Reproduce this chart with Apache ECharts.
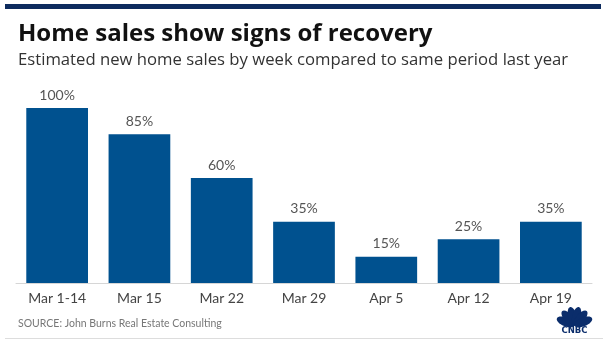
<!DOCTYPE html>
<html><head><meta charset="utf-8">
<script src="https://cdn.jsdelivr.net/npm/echarts@6/dist/echarts.min.js"></script>
<style>html,body{margin:0;padding:0;background:#fff}#c{width:608px;height:343px}</style>
</head><body><div id="c"></div>
<script>
const categories = ['Mar 1-14','Mar 15','Mar 22','Mar 29','Apr 5','Apr 12','Apr 19'];
const values = [100, 85, 60, 35, 15, 25, 35];
const titleText = 'Home sales show signs of recovery';
const subtitleText = 'Estimated new home sales by week compared to same period last year';
const sourceText = 'SOURCE: John Burns Real Estate Consulting';

const chart = echarts.init(document.getElementById('c'), null, {renderer:'canvas'});
const font = 'Lato, "Open Sans", sans-serif';
const tfont = '"Open Sans", Lato, sans-serif';
const feathers = [];
const cx = 574.5, cy = 325.5;
const angles = [-68,-40,-13,13,40,68];
angles.forEach((a)=>{
  const r = a*Math.PI/180;
  feathers.push({type:'ellipse', shape:{cx:0, cy:-9.5, rx:4.3, ry:9.5},
    x:cx, y:cy, rotation:-r, style:{fill:'#0b2d6b'}});
});
chart.setOption({
  animation:false,
  title:[
    {text:titleText, left:13, top:17, textStyle:{fontFamily:tfont, fontSize:24, fontWeight:'bold', color:'#111'}},
    {text:subtitleText, left:13, top:47, textStyle:{fontFamily:tfont, fontSize:16.7, fontWeight:'normal', color:'#333'}},
    {text:sourceText, left:13, top:313, textStyle:{fontFamily:font, fontSize:10.5, fontWeight:'normal', color:'#777'}}
  ],
  graphic:[
    {type:'rect', shape:{x:5, y:4, width:596, height:5}, style:{fill:'#0d2b5e'}},
    {type:'rect', shape:{x:5, y:338, width:598, height:1}, style:{fill:'#dddddd'}},
    ...feathers,
    {type:'text', x:574.5, y:326, style:{text:'CNBC', fill:'#0b2d6b', font:'900 8.5px "DejaVu Sans", sans-serif', textAlign:'center'}}
  ],
  grid:{left:16, right:16, top:108, bottom:60, containLabel:false},
  xAxis:{type:'category', data:categories,
    axisLine:{lineStyle:{color:'#d6d6d6', width:1}}, axisTick:{show:false},
    axisLabel:{fontFamily:font, fontSize:14, color:'#444', margin:8}},
  yAxis:{type:'value', min:0, max:100, show:false, splitLine:{show:false}},
  series:[{type:'bar', data:values, barCategoryGap:'25%',
    itemStyle:{color:'#00518f'},
    label:{show:true, position:'top', formatter:'{c}%', fontFamily:font, fontSize:14, color:'#555', distance:6}}]
});
</script></body></html>
